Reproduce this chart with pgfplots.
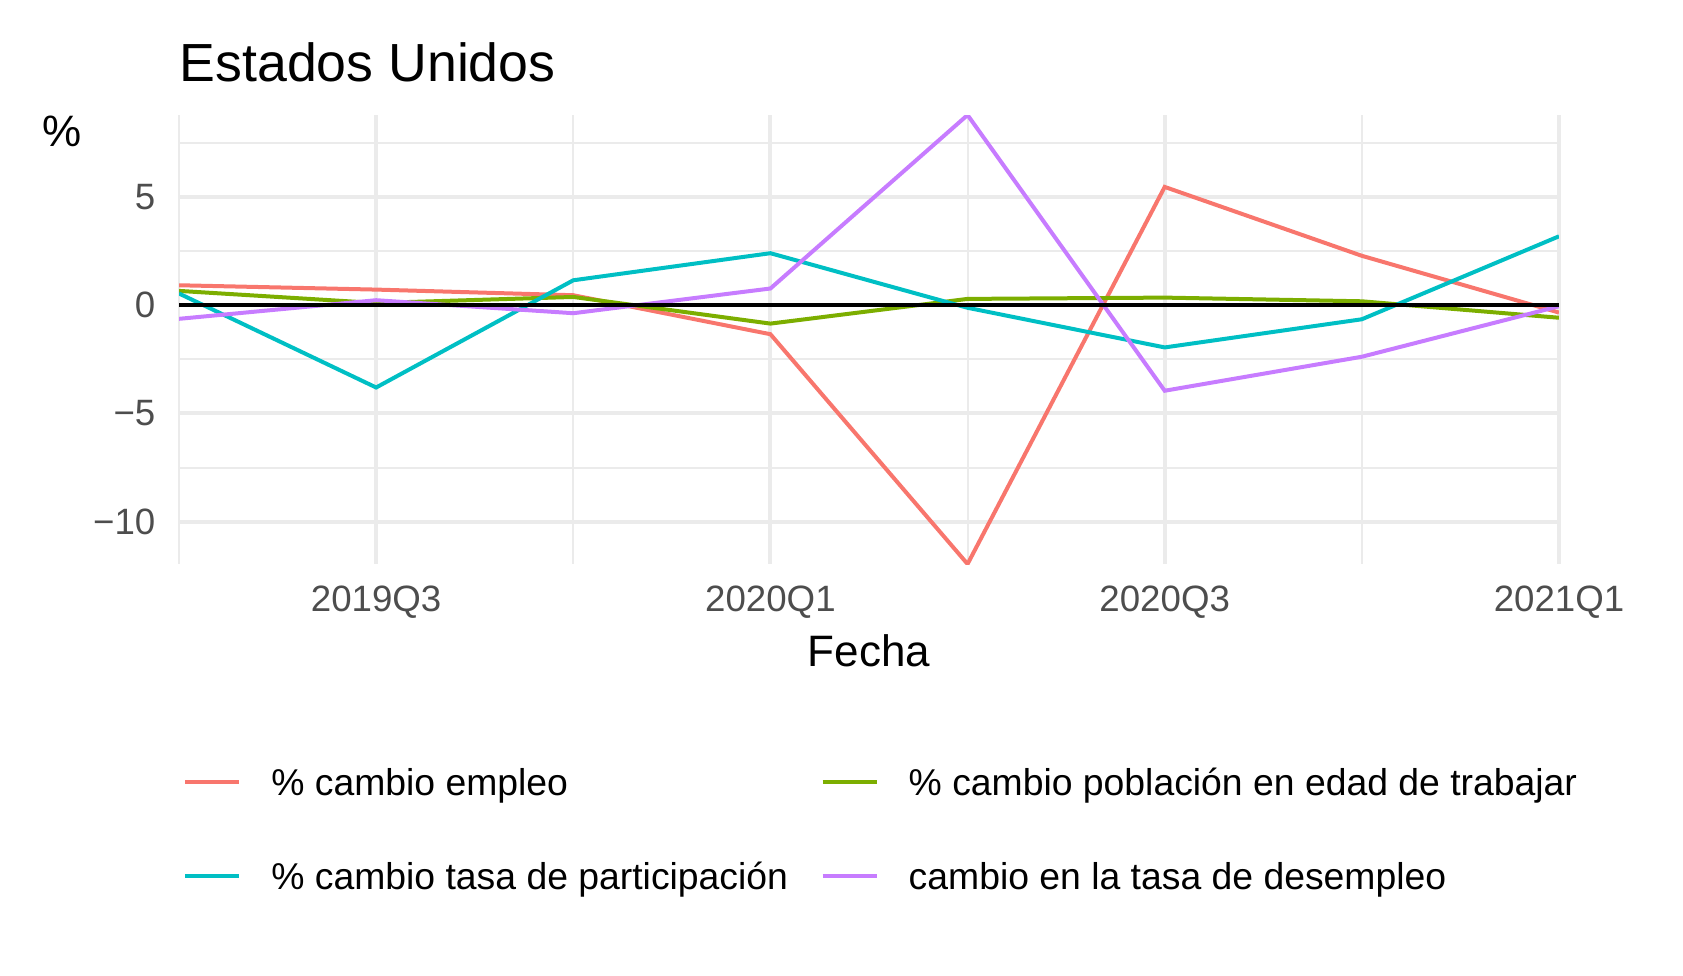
\documentclass[border=0pt]{standalone}
\usepackage{fontspec}
\setmainfont{Liberation Sans}
\usepackage{pgfplots}
\usepackage{pgfplotstable}
\pgfplotsset{compat=1.18}

\definecolor{cemp}{HTML}{F8766D}
\definecolor{cpob}{HTML}{7CAE00}
\definecolor{cpart}{HTML}{00BFC4}
\definecolor{cdes}{HTML}{C77CFF}
\definecolor{gridc}{HTML}{EBEBEB}
\definecolor{tickc}{HTML}{4D4D4D}

% trimestres: 0 = 2019Q2 ... 7 = 2021Q1
\pgfplotstableread{
x  emp    pob    part   des
0  0.92   0.66   0.54  -0.63
1  0.72   0.10  -3.80   0.23
2  0.46   0.38   1.15  -0.37
3 -1.34  -0.85   2.40   0.77
4 -11.95  0.29  -0.12   8.78
5  5.46   0.35  -1.95  -3.95
6  2.28   0.18  -0.65  -2.38
7 -0.34  -0.58   3.18  -0.05
}\datos

\begin{document}
\begin{tikzpicture}
\path[use as bounding box] (-53.7pt,-123.3pt) rectangle (451.2pt,169.2pt);
\begin{axis}[
    scale only axis,
    width=414pt, height=134.7pt,
    xmin=0, xmax=7,
    ymin=-11.95, ymax=8.78,
    axis line style={draw=none},
    major tick length=0pt, minor tick length=0pt,
    xtick={1,3,5,7},
    xticklabels={2019Q3,2020Q1,2020Q3,2021Q1},
    minor xtick={0,2,4,6},
    ytick={-10,-5,0,5},
    yticklabels={−10,−5,0,5},
    minor ytick={-7.5,-2.5,2.5,7.5},
    grid=both,
    major grid style={line width=1.2pt, color=gridc},
    minor grid style={line width=0.6pt, color=gridc},
    tick label style={font=\fontsize{11}{13}\selectfont, color=tickc, inner sep=0pt},
    xticklabel style={anchor=north, yshift=-6.3pt},
    yticklabel style={anchor=east, xshift=-6.9pt},
    xlabel={Fecha},
    xlabel style={at={(axis description cs:0.5,0)}, anchor=base, yshift=-30.6pt,
        inner sep=0pt, font=\fontsize{13.2}{15}\selectfont},
    legend columns=2,
    legend cell align=left,
    legend image code/.code={\draw[#1, line width=1.2pt] (0pt,0pt) -- (16.2pt,0pt);},
    legend style={draw=none, fill=none, at={(0,0)}, anchor=north west,
        xshift=1.1pt, yshift=-61.3pt, inner sep=0pt,
        row sep=20.2pt, column sep=9.0pt,
        font=\fontsize{11.2}{13}\selectfont,
        nodes={inner sep=0pt, text height=8pt, text depth=0pt},
        /tikz/every even column/.append style={column sep=9.8pt}},
]
\addplot[cemp, line width=1.2pt] table[x=x, y=emp] {\datos};
\addlegendentry{\% cambio empleo}
\addplot[cpob, line width=1.2pt] table[x=x, y=pob] {\datos};
\addlegendentry{\% cambio población en edad de trabajar}
\addplot[cpart, line width=1.2pt] table[x=x, y=part] {\datos};
\addlegendentry{\% cambio tasa de participación}
\addplot[cdes, line width=1.2pt] table[x=x, y=des] {\datos};
\addlegendentry{cambio en la tasa de desempleo}
\addplot[black, line width=1.2pt, forget plot] coordinates {(0,0) (7,0)};
\end{axis}
\node[anchor=base west, inner sep=0pt, font=\fontsize{16.1}{19}\selectfont]
    at (0pt,144.7pt) {Estados Unidos};
\node[anchor=north, inner sep=0pt, font=\fontsize{13.2}{15}\selectfont]
    at (-35.1pt,134.7pt) {\%};
\end{tikzpicture}
\end{document}
